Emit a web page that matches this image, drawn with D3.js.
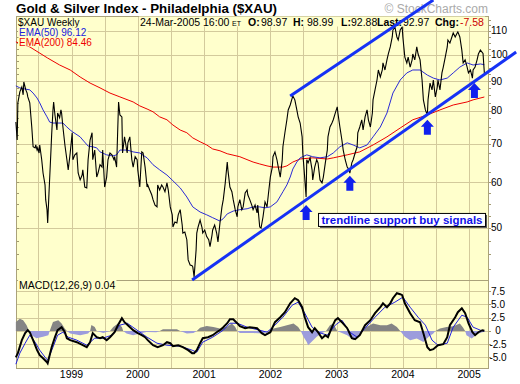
<!DOCTYPE html>
<html><head><meta charset="utf-8">
<script src="https://cdn.jsdelivr.net/npm/d3@7"></script>
<style>
body{margin:0;background:#fff}
svg{display:block}
text{font-family:"Liberation Sans",Arial,sans-serif}
</style>
</head><body>
<svg id="c" width="520" height="384"></svg>
<script>
// ---------- DATA (t = decimal year) ----------
const price = [[1998.16,76.4],[1998.18,71.1],[1998.19,82.5],[1998.22,86.2],[1998.25,87.9],[1998.27,85.2],[1998.28,89.7],[1998.31,86.9],[1998.33,85.8],[1998.34,84.5],[1998.37,82.5],[1998.40,74.9],[1998.42,69.2],[1998.45,68.9],[1998.46,69.7],[1998.48,68.3],[1998.49,68.9],[1998.51,67.5],[1998.52,69.7],[1998.55,65.7],[1998.57,62.3],[1998.60,59.4],[1998.61,56.0],[1998.63,53.8],[1998.64,51.0],[1998.66,57.5],[1998.69,68.3],[1998.70,72.6],[1998.72,80.2],[1998.73,82.8],[1998.75,78.6],[1998.78,74.0],[1998.79,79.2],[1998.82,77.7],[1998.84,80.2],[1998.85,79.2],[1998.87,74.9],[1998.90,69.7],[1998.93,65.7],[1998.95,63.1],[1998.98,67.5],[1999.01,73.2],[1999.02,65.7],[1999.05,67.0],[1999.08,67.5],[1999.10,62.3],[1999.13,60.6],[1999.16,61.8],[1999.17,63.1],[1999.20,58.9],[1999.23,58.7],[1999.25,65.7],[1999.28,71.1],[1999.31,73.2],[1999.32,65.7],[1999.35,68.3],[1999.38,61.3],[1999.40,62.3],[1999.43,64.4],[1999.46,63.8],[1999.47,68.3],[1999.50,58.9],[1999.53,61.3],[1999.55,65.7],[1999.58,67.5],[1999.61,67.0],[1999.64,65.7],[1999.65,66.5],[1999.68,63.8],[1999.71,82.8],[1999.73,78.6],[1999.76,78.0],[1999.77,67.5],[1999.80,72.0],[1999.84,67.5],[1999.85,70.3],[1999.88,72.0],[1999.91,65.7],[1999.93,63.8],[1999.96,66.5],[1999.99,65.7],[2000.00,63.1],[2000.03,58.9],[2000.06,67.8],[2000.08,67.5],[2000.11,63.8],[2000.14,58.9],[2000.15,59.4],[2000.18,58.2],[2000.21,57.1],[2000.23,56.0],[2000.26,54.8],[2000.29,54.4],[2000.30,59.4],[2000.33,58.2],[2000.36,59.4],[2000.38,58.9],[2000.41,57.8],[2000.44,59.9],[2000.46,58.2],[2000.49,54.4],[2000.52,52.7],[2000.53,50.2],[2000.56,51.2],[2000.59,51.0],[2000.61,52.7],[2000.64,53.8],[2000.67,50.6],[2000.68,49.0],[2000.71,49.2],[2000.74,47.7],[2000.76,44.0],[2000.79,43.1],[2000.82,43.0],[2000.83,42.8],[2000.85,41.1],[2000.88,45.8],[2000.89,49.0],[2000.91,50.2],[2000.94,51.6],[2000.97,50.0],[2000.98,49.0],[2001.01,49.6],[2001.04,48.3],[2001.07,47.7],[2001.09,46.4],[2001.12,48.6],[2001.13,49.6],[2001.16,50.6],[2001.19,49.0],[2001.21,47.3],[2001.24,51.0],[2001.27,54.4],[2001.29,56.0],[2001.32,59.9],[2001.35,65.1],[2001.36,63.1],[2001.39,58.9],[2001.42,57.8],[2001.44,56.0],[2001.47,53.8],[2001.50,52.3],[2001.51,54.4],[2001.54,56.0],[2001.57,53.8],[2001.59,54.4],[2001.62,57.5],[2001.65,58.2],[2001.66,57.1],[2001.69,56.0],[2001.72,54.8],[2001.74,53.8],[2001.77,54.8],[2001.80,53.1],[2001.81,54.8],[2001.84,50.2],[2001.86,50.0],[2001.89,52.3],[2001.92,55.5],[2001.95,54.4],[2001.97,57.1],[2002.00,61.3],[2002.03,63.8],[2002.04,66.5],[2002.07,67.8],[2002.10,65.7],[2002.12,63.8],[2002.15,61.3],[2002.18,65.7],[2002.19,69.2],[2002.22,73.2],[2002.25,77.1],[2002.27,80.2],[2002.30,81.8],[2002.33,84.1],[2002.34,84.8],[2002.37,83.5],[2002.40,80.2],[2002.42,78.0],[2002.45,76.1],[2002.48,72.0],[2002.49,67.5],[2002.51,63.1],[2002.54,56.6],[2002.55,65.7],[2002.57,64.9],[2002.60,66.2],[2002.63,63.1],[2002.64,60.6],[2002.67,63.8],[2002.70,65.7],[2002.72,64.9],[2002.75,60.6],[2002.78,59.9],[2002.80,61.3],[2002.83,64.9],[2002.86,68.3],[2002.87,72.0],[2002.90,74.9],[2002.93,76.1],[2002.95,77.1],[2002.98,79.2],[2003.01,81.2],[2003.02,79.2],[2003.05,74.9],[2003.08,71.1],[2003.10,68.3],[2003.13,65.7],[2003.16,63.8],[2003.19,63.1],[2003.20,62.3],[2003.23,64.9],[2003.25,65.7],[2003.28,67.5],[2003.31,69.2],[2003.32,73.2],[2003.35,74.9],[2003.38,77.1],[2003.40,74.0],[2003.43,78.0],[2003.46,80.2],[2003.48,77.1],[2003.51,74.9],[2003.54,79.2],[2003.55,83.5],[2003.58,86.9],[2003.61,90.4],[2003.63,94.1],[2003.66,91.5],[2003.69,94.1],[2003.70,96.8],[2003.73,94.1],[2003.76,98.0],[2003.78,100.3],[2003.81,103.2],[2003.84,107.4],[2003.85,110.4],[2003.88,111.8],[2003.91,107.4],[2003.93,106.1],[2003.96,110.4],[2003.99,111.8],[2004.00,107.4],[2004.03,99.1],[2004.06,96.8],[2004.08,99.1],[2004.11,95.2],[2004.14,98.0],[2004.15,100.3],[2004.18,98.0],[2004.21,103.2],[2004.23,100.3],[2004.26,98.0],[2004.29,90.4],[2004.31,83.5],[2004.34,80.2],[2004.37,78.6],[2004.38,83.5],[2004.41,89.3],[2004.44,86.9],[2004.46,90.4],[2004.49,84.5],[2004.52,87.9],[2004.53,90.4],[2004.56,86.9],[2004.59,93.0],[2004.61,95.2],[2004.64,99.1],[2004.67,103.2],[2004.68,106.1],[2004.71,104.8],[2004.74,107.4],[2004.76,109.1],[2004.79,107.4],[2004.82,109.1],[2004.83,109.6],[2004.86,107.4],[2004.89,101.9],[2004.91,96.8],[2004.94,98.0],[2004.97,95.2],[2004.99,93.0],[2005.02,94.1],[2005.05,91.1],[2005.06,94.1],[2005.09,95.2],[2005.12,98.0],[2005.14,100.3],[2005.17,101.9],[2005.21,100.55],[2005.23,92.97]];

const ema50 = [[1998.16,88.3],[1998.22,87.6],[1998.30,87.2],[1998.37,86.9],[1998.42,85.8],[1998.48,84.1],[1998.52,82.5],[1998.57,80.2],[1998.63,78.0],[1998.67,76.4],[1998.72,76.1],[1998.79,76.1],[1998.87,76.1],[1998.93,74.9],[1998.98,74.0],[1999.02,73.4],[1999.13,72.0],[1999.17,71.1],[1999.25,69.4],[1999.32,69.2],[1999.38,68.9],[1999.43,67.8],[1999.53,67.0],[1999.62,66.7],[1999.68,67.0],[1999.73,68.3],[1999.84,68.3],[1999.93,67.8],[2000.03,67.5],[2000.14,66.2],[2000.23,64.4],[2000.33,63.1],[2000.44,61.8],[2000.53,60.4],[2000.64,58.7],[2000.74,56.6],[2000.83,54.4],[2000.94,53.3],[2001.04,52.7],[2001.13,52.1],[2001.24,51.4],[2001.29,51.9],[2001.35,52.9],[2001.44,53.5],[2001.54,53.8],[2001.65,54.0],[2001.74,54.4],[2001.84,54.4],[2001.92,54.2],[2002.00,54.4],[2002.10,55.5],[2002.19,57.8],[2002.25,59.4],[2002.30,61.3],[2002.34,63.3],[2002.40,65.1],[2002.45,66.2],[2002.55,67.0],[2002.64,66.5],[2002.75,66.2],[2002.86,66.5],[2002.95,67.5],[2003.05,69.2],[2003.16,70.3],[2003.25,69.7],[2003.35,68.9],[2003.46,69.7],[2003.55,72.0],[2003.66,74.9],[2003.76,79.2],[2003.85,85.8],[2003.96,90.4],[2004.06,93.0],[2004.15,94.1],[2004.26,94.1],[2004.37,92.2],[2004.46,91.1],[2004.56,90.4],[2004.67,91.1],[2004.76,93.0],[2004.86,95.2],[2004.97,96.8],[2005.06,96.0],[2005.17,96.4],[2005.23,96.12]];

const ema200 = [[1998.16,105.3],[1998.37,103.2],[1998.64,98.7],[1998.82,96.0],[1998.98,94.1],[1999.13,91.5],[1999.28,89.3],[1999.43,87.6],[1999.58,85.8],[1999.73,84.5],[1999.93,82.8],[2000.03,81.5],[2000.14,80.5],[2000.23,79.6],[2000.33,78.0],[2000.44,77.1],[2000.53,75.5],[2000.64,74.0],[2000.74,73.2],[2000.83,71.7],[2000.94,70.6],[2001.04,69.7],[2001.13,68.6],[2001.24,68.1],[2001.35,67.3],[2001.54,66.5],[2001.74,65.1],[2001.84,64.6],[2001.95,64.1],[2002.04,63.8],[2002.19,63.8],[2002.25,64.1],[2002.34,65.1],[2002.45,65.9],[2002.64,66.2],[2002.86,65.9],[2002.95,66.2],[2003.16,67.0],[2003.35,67.8],[2003.55,69.7],[2003.76,72.0],[2003.96,74.6],[2004.15,77.1],[2004.37,78.6],[2004.56,80.2],[2004.76,81.8],[2004.97,82.8],[2005.06,83.5],[2005.23,84.46]];

const macdLine = [[1998.16,-5.0],[1998.19,-4.2],[1998.25,-1.75],[1998.30,-0.43],[1998.34,0.13],[1998.37,-0.25],[1998.42,-1.75],[1998.48,-3.64],[1998.52,-4.58],[1998.57,-5.15],[1998.63,-5.9],[1998.64,-6.1],[1998.70,-3.07],[1998.75,-1.19],[1998.79,0.13],[1998.85,0.7],[1998.90,-0.25],[1998.93,-1.38],[1998.98,-1.75],[1999.08,-2.13],[1999.17,-2.7],[1999.23,-3.07],[1999.28,-2.13],[1999.32,-0.43],[1999.38,-1.19],[1999.43,-1.38],[1999.47,-1.19],[1999.53,-1.75],[1999.58,-1.19],[1999.65,-0.25],[1999.70,1.08],[1999.76,2.4],[1999.80,1.64],[1999.85,1.08],[1999.93,0.13],[2000.00,-0.43],[2000.06,-0.81],[2000.11,-1.19],[2000.15,-1.75],[2000.23,-2.7],[2000.30,-3.07],[2000.38,-2.7],[2000.44,-2.13],[2000.49,-2.32],[2000.53,-2.89],[2000.61,-2.7],[2000.68,-3.07],[2000.76,-3.64],[2000.82,-4.2],[2000.85,-4.2],[2000.89,-3.64],[2000.94,-2.32],[2000.98,-1.38],[2001.06,-1.19],[2001.13,-0.81],[2001.19,-0.25],[2001.24,0.13],[2001.29,0.7],[2001.35,1.45],[2001.39,2.2],[2001.44,2.2],[2001.50,1.45],[2001.54,0.89],[2001.62,0.51],[2001.69,0.7],[2001.80,0.51],[2001.87,-0.43],[2001.92,-0.81],[2002.00,-0.25],[2002.07,1.64],[2002.15,2.58],[2002.22,3.53],[2002.30,5.2],[2002.37,6.17],[2002.42,5.8],[2002.48,4.47],[2002.52,2.58],[2002.57,0.7],[2002.63,-0.25],[2002.67,0.51],[2002.72,-0.25],[2002.78,-1.38],[2002.83,-0.81],[2002.87,-1.19],[2002.93,0.7],[2002.98,2.02],[2003.02,2.4],[2003.08,1.64],[2003.16,0.51],[2003.23,-1.38],[2003.28,-1.57],[2003.35,-0.81],[2003.43,1.08],[2003.51,2.02],[2003.58,3.34],[2003.66,4.47],[2003.70,5.2],[2003.76,4.47],[2003.81,5.2],[2003.85,6.17],[2003.91,7.11],[2003.96,6.92],[2003.99,6.74],[2004.03,5.2],[2004.11,3.34],[2004.18,2.02],[2004.26,1.64],[2004.31,-0.43],[2004.37,-3.07],[2004.41,-3.64],[2004.46,-3.45],[2004.53,-2.7],[2004.61,-2.51],[2004.67,-1.19],[2004.71,1.08],[2004.79,2.58],[2004.83,3.53],[2004.89,4.28],[2004.94,3.34],[2004.99,1.45],[2005.05,-0.25],[2005.09,-0.81],[2005.14,-0.25],[2005.20,0.13],[2005.23,0.04]];

const signalLine = [[1998.16,-6.28],[1998.22,-4.2],[1998.30,-2.32],[1998.37,-0.81],[1998.45,-2.13],[1998.52,-3.64],[1998.60,-4.96],[1998.64,-5.53],[1998.72,-3.07],[1998.79,-0.81],[1998.87,-0.25],[1998.95,-1.19],[1999.08,-1.75],[1999.23,-2.7],[1999.35,-1.38],[1999.47,-1.38],[1999.61,-0.81],[1999.73,1.08],[1999.84,1.45],[1999.99,0.13],[2000.14,-1.19],[2000.29,-2.32],[2000.44,-2.7],[2000.64,-2.89],[2000.82,-3.64],[2000.89,-4.02],[2000.98,-2.13],[2001.13,-1.19],[2001.29,0.13],[2001.39,1.45],[2001.50,1.45],[2001.65,0.7],[2001.84,0.13],[2001.95,-0.25],[2002.07,1.08],[2002.19,2.58],[2002.33,4.85],[2002.42,5.42],[2002.52,3.34],[2002.63,0.7],[2002.72,-0.25],[2002.86,-0.81],[2002.98,1.08],[2003.08,2.02],[2003.20,-0.25],[2003.31,-1.19],[2003.43,0.51],[2003.58,2.58],[2003.73,4.47],[2003.88,5.42],[2004.00,6.36],[2004.11,4.47],[2004.23,2.58],[2004.34,1.08],[2004.44,-1.75],[2004.53,-2.7],[2004.67,-2.32],[2004.76,0.7],[2004.89,2.96],[2004.97,2.58],[2005.06,0.7],[2005.17,0.13],[2005.23,-0.06]];

const histogram = [[1998.16,1.7],[1998.22,2.3],[1998.27,2.0],[1998.32,1.1],[1998.36,0],[1998.40,-0.8],[1998.47,-1.4],[1998.57,-1.1],[1998.65,-0.8],[1998.67,0],[1998.72,1.7],[1998.80,2.0],[1998.85,1.4],[1998.90,0.4],[1998.93,0],[1998.98,-0.5],[1999.13,-0.8],[1999.25,-0.5],[1999.28,0],[1999.30,1.1],[1999.35,0.75],[1999.38,0],[1999.48,-0.4],[1999.58,0],[1999.63,0.75],[1999.70,1.4],[1999.76,0.75],[1999.78,0],[1999.83,-0.5],[1999.93,-0.8],[2000.03,-0.5],[2000.13,-0.2],[2000.28,-0.25],[2000.33,0],[2000.38,0.3],[2000.59,0.3],[2000.64,0],[2000.74,-0.5],[2000.84,-0.4],[2000.89,0],[2000.94,0.6],[2001.04,0.9],[2001.14,0.75],[2001.24,0.44],[2001.34,0.75],[2001.42,1.4],[2001.47,0.75],[2001.50,0],[2001.54,-0.4],[2001.74,-0.4],[2001.89,-0.5],[2001.97,0],[2002.05,0.44],[2002.15,0.75],[2002.25,1.07],[2002.35,1.38],[2002.42,0.75],[2002.46,0],[2002.50,-1.1],[2002.55,-2.1],[2002.57,-2.7],[2002.62,-2.1],[2002.70,-1.1],[2002.77,-0.5],[2002.84,0],[2002.90,1.07],[2002.95,1.38],[2003.01,0],[2003.16,-0.8],[2003.26,-1.76],[2003.33,-0.8],[2003.38,0],[2003.45,0.75],[2003.55,1.38],[2003.66,1.07],[2003.76,1.07],[2003.83,1.38],[2003.91,0.75],[2003.96,0],[2004.03,-1.1],[2004.11,-1.76],[2004.21,-1.45],[2004.31,-2.1],[2004.39,-1.1],[2004.46,-0.5],[2004.49,0],[2004.56,0.44],[2004.66,0.75],[2004.76,0.88],[2004.86,1.38],[2004.91,0.6],[2004.94,0],[2004.96,-0.8],[2005.04,-1.45],[2005.12,-0.6],[2005.21,-0.2],[2005.23,0]];

const yearTicks = [1999, 2000, 2001, 2002, 2003, 2004, 2005];
const gridYears = [1998.5, 1999, 1999.5, 2000, 2000.5, 2001, 2001.5, 2002, 2002.5, 2003, 2003.5, 2004, 2004.5, 2005];
const priceTicks = [50, 60, 70, 80, 90, 100, 110];
const priceMinorTicks = [42.5,45,47.5,52.5,55,57.5,62.5,65,67.5,72.5,75,77.5,82.5,85,87.5,92.5,95,97.5,102.5,105,107.5,112.5,115];
const macdTicks = [-5, -2.5, 0, 2.5, 5, 7.5];
const macdTickLabels = ["-5.0", "-2.5", "0", "2.5", "5.0", "7.5"];

const upperTrend = [[2002.30, 84.8], [2004.46, 124.5]];
const lowerTrend = [[2000.82, 40.6], [2005.71, 101.1]];
const buySignals = [[2002.54, 54.8], [2003.20, 61.6], [2004.37, 77.1], [2005.08, 89.3]];
const noteAnchor = [2002.72, 53.1];

const titleText = "Gold & Silver Index - Philadelphia ($XAU)";
const symbolText = "$XAU Weekly";
const quote = {date: "24-Mar-2005 16:00", tz: "ET", open: "98.97", high: "98.99", low: "92.88", last: "92.97", chg: "-7.58"};
const emaLegend = [{label: "EMA(50) 96.12", color: "#2020dd"}, {label: "EMA(200) 84.46", color: "#ee0000"}];
const macdLabel = "MACD(12,26,9) 0.04";
const noteText = "trendline support buy signals";
const watermark = "\u00A9 StockCharts.com";

// ---------- LAYOUT ----------
const L = 16, R = 488, T = 16, MB = 280, BB = 368;
const BG = "#ffffcc", GRID = "#d3ca9c", BORDER = "#aaa27a";

const x = d3.scaleLinear().domain([1998.162, 2005.285]).range([L, R]);
const y = d3.scaleLog().domain([40.6, 116.8]).range([MB, T]);
const yM = d3.scaleLinear().domain([-7.0, 9.6]).range([BB, MB]);

const svg = d3.select("#c");

// panels
svg.append("rect").attr("x", L).attr("y", T).attr("width", R - L).attr("height", BB - T).attr("fill", BG);

const grid = svg.append("g").attr("stroke", GRID).attr("stroke-width", 1).attr("shape-rendering", "crispEdges");
grid.selectAll(".vg").data(gridYears).join("line")
  .attr("x1", d => Math.round(x(d)) + 0.5).attr("x2", d => Math.round(x(d)) + 0.5)
  .attr("y1", T).attr("y2", BB);
grid.selectAll(".hg").data(priceTicks).join("line")
  .attr("x1", L).attr("x2", R)
  .attr("y1", d => Math.round(y(d)) + 0.5).attr("y2", d => Math.round(y(d)) + 0.5);
grid.append("g").selectAll("line").data(macdTicks).join("line")
  .attr("x1", L).attr("x2", R)
  .attr("y1", d => Math.round(yM(d)) + 0.5).attr("y2", d => Math.round(yM(d)) + 0.5);

// minor ticks
const tk = svg.append("g").attr("stroke", "#a39b70").attr("shape-rendering", "crispEdges");
tk.selectAll(".l").data(priceMinorTicks.concat(priceTicks)).join("line")
  .attr("x1", L).attr("x2", L + 3)
  .attr("y1", d => Math.round(y(d)) + 0.5).attr("y2", d => Math.round(y(d)) + 0.5);
tk.append("g").selectAll("line").data(priceMinorTicks.concat(priceTicks)).join("line")
  .attr("x1", R).attr("x2", R + 3)
  .attr("y1", d => Math.round(y(d)) + 0.5).attr("y2", d => Math.round(y(d)) + 0.5);
tk.append("g").selectAll("line").data(macdTicks).join("line")
  .attr("x1", R).attr("x2", R + 3)
  .attr("y1", d => Math.round(yM(d)) + 0.5).attr("y2", d => Math.round(yM(d)) + 0.5);

// borders
svg.append("rect").attr("x", L + 0.5).attr("y", T + 0.5).attr("width", R - L).attr("height", MB - T)
  .attr("fill", "none").attr("stroke", BORDER).attr("shape-rendering", "crispEdges");
svg.append("rect").attr("x", L + 0.5).attr("y", MB + 0.5).attr("width", R - L).attr("height", BB - MB)
  .attr("fill", "none").attr("stroke", BORDER).attr("shape-rendering", "crispEdges");

// ---------- MAIN PANEL LINES ----------
const line = d3.line().x(d => x(d[0])).y(d => y(d[1]));
const main = svg.append("g");
main.append("path").datum(ema200).attr("d", line).attr("fill", "none").attr("stroke", "#ee0000").attr("stroke-width", 1);
main.append("path").datum(ema50).attr("d", line).attr("fill", "none").attr("stroke", "#2b2bd6").attr("stroke-width", 1);
main.append("path").datum(price).attr("d", line).attr("fill", "none").attr("stroke", "#000").attr("stroke-width", 1.1).attr("stroke-linejoin", "miter");

// ---------- MACD PANEL ----------
const areaPos = d3.area().x(d => x(d[0])).y0(yM(0)).y1(d => yM(Math.max(0, d[1])));
const areaNeg = d3.area().x(d => x(d[0])).y0(yM(0)).y1(d => yM(Math.min(0, d[1])));
svg.append("path").datum(histogram).attr("d", areaPos).attr("fill", "#858585");
svg.append("path").datum(histogram).attr("d", areaNeg).attr("fill", "#9c9cdc");
const lineM = d3.line().x(d => x(d[0])).y(d => yM(d[1]));
svg.append("path").datum(signalLine).attr("d", lineM).attr("fill", "none").attr("stroke", "#2020e0").attr("stroke-width", 1);
svg.append("path").datum(macdLine).attr("d", lineM).attr("fill", "none").attr("stroke", "#000").attr("stroke-width", 2);

// ---------- AXIS LABELS ----------
svg.append("g").selectAll("text").data(priceTicks).join("text")
  .attr("x", R + 3).attr("y", d => y(d) + 3.5).attr("font-size", 10).attr("fill", "#000").text(d => d);
svg.append("g").selectAll("text").data(macdTicks).join("text")
  .attr("x", R + 10).attr("y", d => yM(d) + 3.5).attr("text-anchor", "middle").attr("font-size", 10).attr("fill", "#000")
  .text((d, i) => macdTickLabels[i]);
svg.append("g").selectAll("text").data(yearTicks).join("text")
  .attr("x", d => x(d)).attr("y", 378).attr("text-anchor", "middle").attr("font-size", 10.5).attr("fill", "#000").text(d => d);

// ---------- TEXT WITH BACKGROUND ----------
function withBg(textSel, pad) {
  const n = textSel.node();
  const b = n.getBBox();
  const r = document.createElementNS("http://www.w3.org/2000/svg", "rect");
  n.parentNode.insertBefore(r, n);
  d3.select(r).attr("x", b.x - pad).attr("y", b.y + 1).attr("width", b.width + 2 * pad).attr("height", b.height - 2).attr("fill", BG);
}
const lab = svg.append("g");
const sym = lab.append("text").attr("x", 18).attr("y", 25.5).attr("font-size", 10).text(symbolText);
withBg(sym, 1);

const q = lab.append("text").attr("y", 25.5).attr("font-size", 10.5).attr("fill", "#000");
q.append("tspan").attr("x", 140).text(quote.date);
q.append("tspan").attr("x", 232).attr("font-size", 7).text(quote.tz);
q.append("tspan").attr("x", 248).attr("font-weight", "bold").text("O:");
q.append("tspan").attr("x", 261).text(quote.open);
q.append("tspan").attr("x", 293).attr("font-weight", "bold").text("H:");
q.append("tspan").attr("x", 307).text(quote.high);
q.append("tspan").attr("x", 341).attr("font-weight", "bold").text("L:");
q.append("tspan").attr("x", 351).text(quote.low);
q.append("tspan").attr("x", 377).attr("font-weight", "bold").text("Last:");
q.append("tspan").attr("x", 403).text(quote.last);
q.append("tspan").attr("x", 435).attr("font-weight", "bold").text("Chg:");
q.append("tspan").attr("x", 460).attr("fill", "#cc0000").text(quote.chg);
withBg(q, 1);

emaLegend.forEach((e, i) => {
  const t = lab.append("text").attr("x", 19).attr("y", 35.5 + i * 10).attr("font-size", 10).attr("fill", e.color).text(e.label);
  withBg(t, 1);
});
const ml = lab.append("text").attr("x", 19).attr("y", 289).attr("font-size", 10.5).attr("fill", "#000").text(macdLabel);
withBg(ml, 1);

// ---------- ANNOTATIONS ----------
svg.append("text").attr("x", 488).attr("y", 12.5).attr("text-anchor", "end").attr("font-size", 12)
  .attr("fill", "#aaaaaa").text(watermark);
svg.append("text").attr("x", L).attr("y", 12.5).attr("font-size", 12.5).attr("font-weight", "bold")
  .attr("textLength", 261).attr("lengthAdjust", "spacingAndGlyphs").attr("fill", "#000").text(titleText);

const tl = d3.line().x(d => x(d[0])).y(d => y(d[1]));
[upperTrend, lowerTrend].forEach(seg => {
  svg.append("path").datum(seg).attr("d", tl).attr("fill", "none").attr("stroke", "#1632f5").attr("stroke-width", 3);
});

const arrow = "M0,0 L6.5,7 L3.5,7 L3.5,15 L-3.5,15 L-3.5,7 L-6.5,7 Z";
svg.append("g").selectAll("path").data(buySignals).join("path")
  .attr("transform", d => `translate(${x(d[0])},${y(d[1])})`).attr("d", arrow).attr("fill", "#1020ee");

const nx = x(noteAnchor[0]), ny = y(noteAnchor[1]);
svg.append("rect").attr("x", nx + 2).attr("y", ny + 2).attr("width", 167).attr("height", 13).attr("fill", "#555");
svg.append("rect").attr("x", nx + 0.5).attr("y", ny + 0.5).attr("width", 167).attr("height", 13).attr("fill", "#fff").attr("stroke", "#000");
svg.append("text").attr("x", nx + 3.5).attr("y", ny + 11).attr("font-size", 11).attr("font-weight", "bold")
  .attr("fill", "#1010e8").attr("textLength", 161).attr("lengthAdjust", "spacingAndGlyphs").text(noteText);
</script>
</body></html>
